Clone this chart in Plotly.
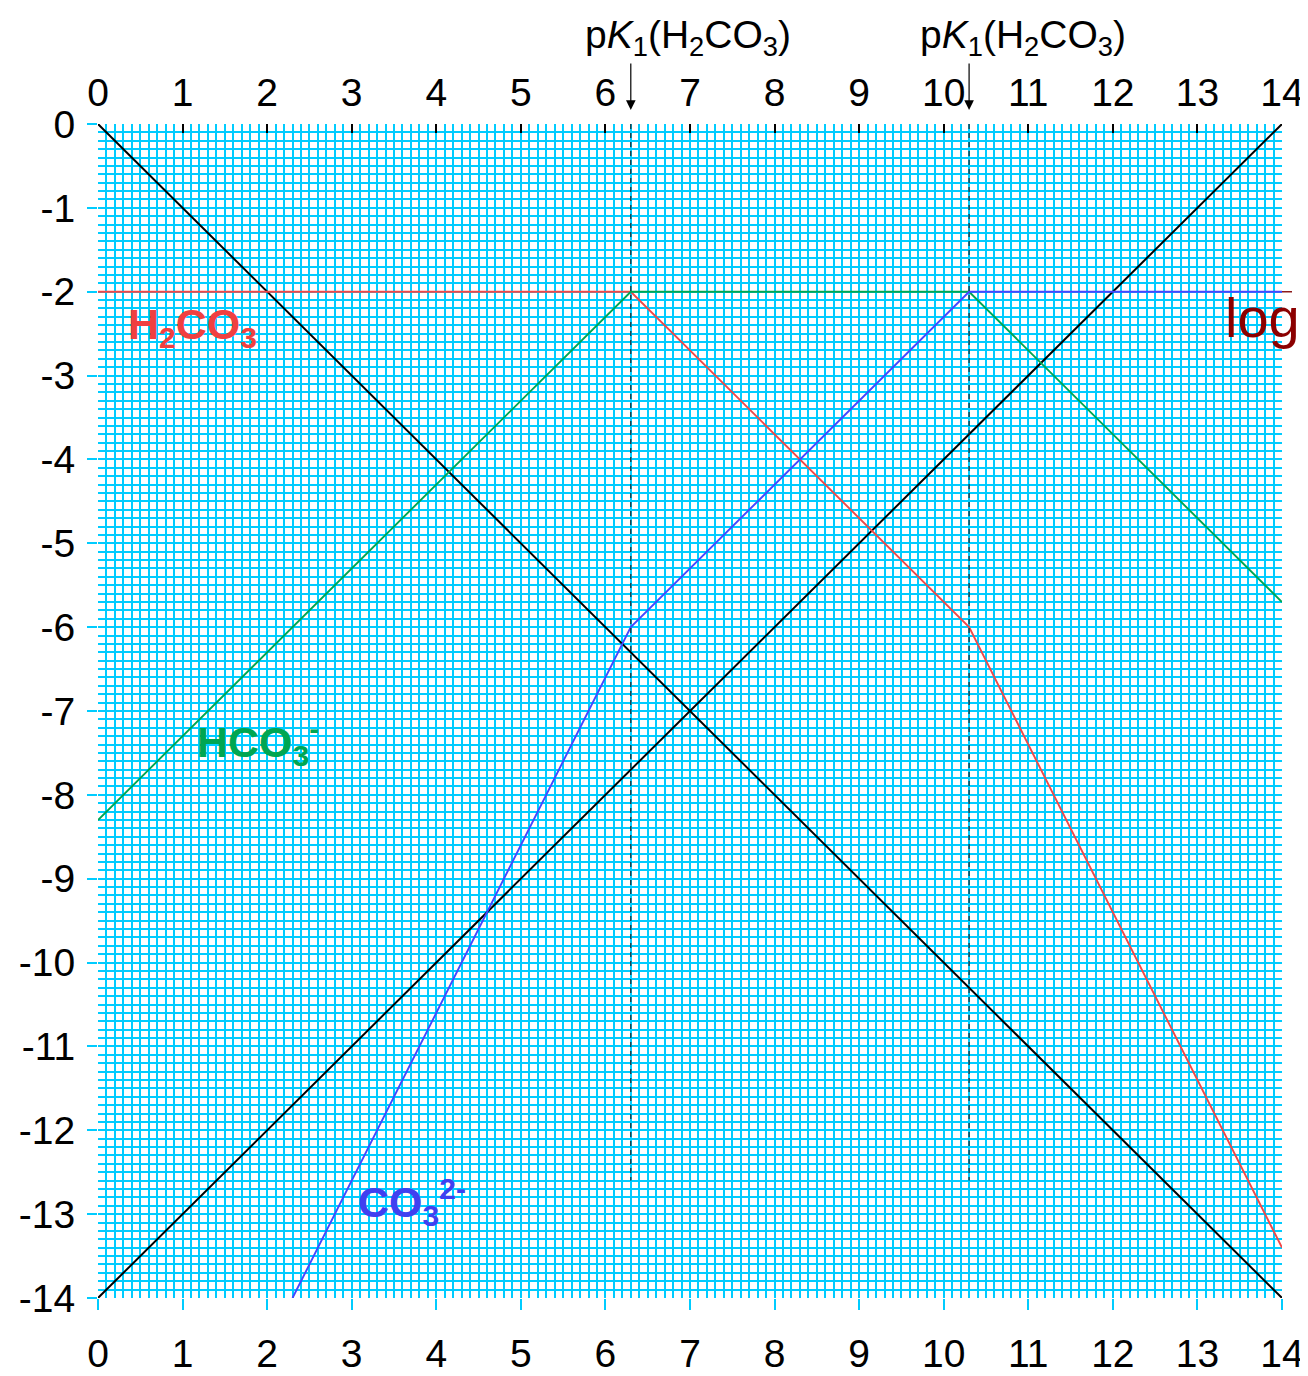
import plotly.graph_objects as go

# ---- data ----
pK1 = 6.3
pK2 = 10.3
logC_total = -2
pH_H2CO3 = [0, 6.3, 10.3, 14]
log_H2CO3 = [-2, -2, -6, -13.4]
pH_HCO3 = [0, 6.3, 10.3, 14]
log_HCO3 = [-8.3, -2, -2, -5.7]
pH_CO3 = [2.3, 6.3, 10.3, 14]
log_CO3 = [-14, -6, -2, -2]
pH_H = [0, 14]
log_H = [0, -14]
pH_OH = [0, 14]
log_OH = [-14, 0]
x_ticks = list(range(0, 15))
x_ticktext = [str(v) for v in x_ticks]
y_ticks = list(range(0, -15, -1))
y_ticktext = [str(v) for v in y_ticks]
pK_line_bottom = -12.6

GRID = "#00CCFF"
FONT = "Liberation Sans, Arial, sans-serif"

fig = go.Figure()

def line(x, y, color, width=1.5):
    fig.add_trace(go.Scatter(x=x, y=y, mode="lines", line=dict(color=color, width=width),
                             hoverinfo="skip", showlegend=False, cliponaxis=True))

line(pH_H, log_H, "black", 2)
line(pH_OH, log_OH, "black", 2)
line(pH_H2CO3, log_H2CO3, "#F04848", 1.9)
line(pH_HCO3, log_HCO3, "#00A651", 1.9)
line(pH_CO3, log_CO3, "#4646FF", 1.9)

# dashed vertical pK lines
for pk in (pK1, pK2):
    fig.add_shape(type="line", x0=pk, x1=pk, y0=0, y1=pK_line_bottom, xref="x", yref="y",
                  line=dict(color="#222222", width=1.2, dash="5px,4px"))

# dashed total line continuing beyond the plot on the right
fig.add_shape(type="line", x0=1.0, x1=1.06, y0=logC_total, y1=logC_total, xref="paper", yref="y",
              line=dict(color="#8B1A1A", width=1.5, dash="10px,8px"))

# hidden trace to activate top axis
fig.add_trace(go.Scatter(x=[0, 14], y=[0, -14], xaxis="x2", mode="markers",
                         marker=dict(opacity=0), hoverinfo="skip", showlegend=False))

axis_font = dict(family=FONT, size=39, color="black")

fig.update_layout(
    width=1300, height=1368,
    margin=dict(l=90, r=26, t=116, b=78, autoexpand=False),
    paper_bgcolor="white", plot_bgcolor="white",
    font=dict(family=FONT),
    xaxis=dict(range=[0, 14], tickvals=x_ticks, ticktext=x_ticktext, tickfont=axis_font,
               showgrid=True, gridcolor=GRID, gridwidth=2, automargin=False,
               minor=dict(dtick=0.1, showgrid=True, gridcolor=GRID, gridwidth=2),
               ticks="outside", ticklen=11, tickcolor=GRID, tickwidth=2,
               ticklabelstandoff=10, zeroline=False, showline=False),
    xaxis2=dict(range=[0, 14], overlaying="x", side="top", tickvals=x_ticks, ticktext=x_ticktext,
                tickfont=axis_font, showgrid=False, ticks="inside", ticklen=9, tickcolor="black",
                tickwidth=2, ticklabelstandoff=9, zeroline=False, showline=False, automargin=False),
    yaxis=dict(range=[-14, 0], tickvals=y_ticks, ticktext=y_ticktext, tickfont=axis_font,
               showgrid=True, gridcolor=GRID, gridwidth=2, automargin=False,
               minor=dict(dtick=0.1, showgrid=True, gridcolor=GRID, gridwidth=2),
               ticks="outside", ticklen=10, tickcolor=GRID, tickwidth=2,
               ticklabelstandoff=4, zeroline=False, showline=False),
)

# pK labels with arrows
pk_label = "p<i>K</i><sub>1</sub>(H<sub>2</sub>CO<sub>3</sub>)"
for pk, lx in ((pK1, 5.73), (pK2, 9.7)):
    fig.add_annotation(x=lx, y=1.051, xref="x", yref="paper", text=pk_label, showarrow=False,
                       xanchor="left", yanchor="bottom", font=dict(family=FONT, size=39, color="black"))
    fig.add_annotation(x=pk, y=1.012, xref="x", yref="paper", ax=0, ay=-48, text="",
                       showarrow=True, arrowhead=2, arrowsize=1.6, arrowwidth=1.2, arrowcolor="black")

# species labels
fig.add_annotation(x=0.33, y=-2.42, xref="x", yref="y", text="<b>H<sub>2</sub>CO<sub>3</sub></b>",
                   showarrow=False, xanchor="left", yanchor="middle",
                   font=dict(family=FONT, size=43, color="#F04040"))
fig.add_annotation(x=1.15, y=-7.37, xref="x", yref="y", text="<b>HCO<sub>3</sub><sup>-</sup></b>",
                   showarrow=False, xanchor="left", yanchor="middle",
                   font=dict(family=FONT, size=43, color="#00A651"))
fig.add_annotation(x=3.05, y=-12.85, xref="x", yref="y", text="<b>CO<sub>3</sub><sup>2-</sup></b>",
                   showarrow=False, xanchor="left", yanchor="middle",
                   font=dict(family=FONT, size=43, color="#4040F0"))
fig.add_annotation(x=0.95, y=-2.35, xref="paper", yref="y", text="logc<sub>T</sub>",
                   showarrow=False, xanchor="left", yanchor="middle",
                   font=dict(family=FONT, size=56, color="#8B0000"))

fig.write_html("out.html")
